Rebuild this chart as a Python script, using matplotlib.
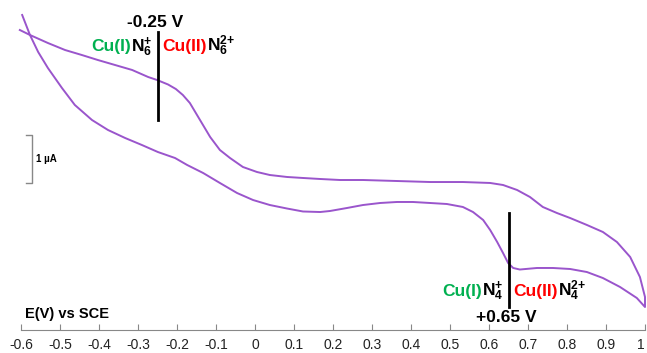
import matplotlib
matplotlib.use("Agg")
import matplotlib.pyplot as plt
from matplotlib.transforms import offset_copy

plt.rcParams['font.family'] = 'Liberation Sans'
plt.rcParams['axes.unicode_minus'] = False
plt.rcParams['mathtext.fontset'] = 'custom'
plt.rcParams['mathtext.rm'] = 'Liberation Sans'
plt.rcParams['mathtext.bf'] = 'Liberation Sans:bold'

# forward scan (-0.6 -> 1.0), potential in V vs SCE, current in uA (arbitrary offset)
fwd_E = [-0.603, -0.577, -0.531, -0.487, -0.444, -0.403, -0.359, -0.315,
         -0.274, -0.251, -0.223, -0.203, -0.185, -0.167, -0.141, -0.115,
         -0.090, -0.064, -0.031, 0.005, 0.038, 0.082, 0.123, 0.167, 0.218,
         0.277, 0.364, 0.449, 0.533, 0.603, 0.636, 0.672, 0.705, 0.738,
         0.774, 0.808, 0.851, 0.892, 0.928, 0.962, 0.987, 1.0, 1.0]
fwd_I = [6.25, 6.146, 5.979, 5.833, 5.729, 5.625, 5.521, 5.417,
         5.271, 5.208, 5.115, 5.021, 4.896, 4.729, 4.375, 4.021,
         3.75, 3.583, 3.396, 3.292, 3.229, 3.188, 3.167, 3.146, 3.125,
         3.125, 3.104, 3.083, 3.083, 3.063, 3.021, 2.917, 2.771, 2.563,
         2.438, 2.333, 2.188, 2.042, 1.833, 1.521, 1.104, 0.688, 0.479]

# reverse scan (1.0 -> -0.6)
rev_E = [1.0, 0.979, 0.936, 0.892, 0.851, 0.808, 0.764, 0.723, 0.679,
         0.662, 0.649, 0.636, 0.621, 0.603, 0.585, 0.559, 0.533, 0.492,
         0.449, 0.405, 0.364, 0.321, 0.277, 0.236, 0.192, 0.167, 0.123,
         0.082, 0.038, -0.005, -0.046, -0.090, -0.133, -0.174, -0.205,
         -0.249, -0.290, -0.333, -0.377, -0.418, -0.462, -0.495, -0.531,
         -0.556, -0.577, -0.597]
rev_I = [0.479, 0.667, 0.896, 1.083, 1.208, 1.271, 1.292, 1.292, 1.26,
         1.292, 1.396, 1.604, 1.833, 2.083, 2.292, 2.458, 2.563, 2.625,
         2.646, 2.667, 2.667, 2.646, 2.604, 2.542, 2.479, 2.458, 2.469,
         2.531, 2.604, 2.708, 2.854, 3.063, 3.271, 3.438, 3.583,
         3.708, 3.854, 4.0, 4.167, 4.375, 4.688, 5.042, 5.458,
         5.792, 6.146, 6.563]

xticks = [-0.6, -0.5, -0.4, -0.3, -0.2, -0.1, 0, 0.1, 0.2, 0.3, 0.4, 0.5,
          0.6, 0.7, 0.8, 0.9, 1.0]
xlabels = ['-0.6', '-0.5', '-0.4', '-0.3', '-0.2', '-0.1', '0', '0.1', '0.2',
           '0.3', '0.4', '0.5', '0.6', '0.7', '0.8', '0.9', '1']

GREEN = '#00b050'
RED = '#ff0000'
PURPLE = '#9a55cc'

fig = plt.figure(figsize=(6.47, 3.53), dpi=100)
ax = fig.add_axes([21 / 647, 23 / 353, 624 / 647, 330 / 353])
ax.set_xlim(-0.6, 1.0)
ax.set_ylim(0, 330 / 48)

ax.plot(fwd_E + rev_E, fwd_I + rev_I, color=PURPLE, lw=1.4, clip_on=False)

for s in ['left', 'right', 'top']:
    ax.spines[s].set_visible(False)
ax.spines['bottom'].set_color('#888888')
ax.set_yticks([])
ax.set_xticks(xticks)
ax.set_xticklabels(xlabels)
ax.tick_params(axis='x', direction='in', length=4, color='#888888',
               labelsize=10, pad=6, labelcolor='#222222')
ax.get_xticklabels()[-1].set_horizontalalignment('right')

# scale bar
ax.plot([-0.586, -0.573, -0.573, -0.586], [4.06, 4.06, 3.06, 3.06],
        color='#888888', lw=1, clip_on=False)
ax.text(-0.562, 3.56, '1 \u00b5A', fontsize=7, fontweight='bold', va='center')

ax.text(-0.59, 0.25, 'E(V) vs SCE', fontsize=10.5, fontweight='bold')

# marker lines
ax.plot([-0.25, -0.25], [6.21, 4.375], color='black', lw=2)
ax.plot([0.65, 0.65], [2.44, 0.48], color='black', lw=2)
ax.text(-0.257, 6.31, '-0.25 V', fontsize=12.5, fontweight='bold', ha='center')
ax.text(0.644, 0.167, '+0.65 V', fontsize=12.5, fontweight='bold', ha='center')

renderer = fig.canvas.get_renderer()


def chain(x, y, pieces, align):
    # draws coloured pieces next to each other on one baseline
    dx = 0
    seq = reversed(pieces) if align == 'right' else pieces
    for s, c in seq:
        off = -dx if align == 'right' else dx
        tr = offset_copy(ax.transData, fig=fig, x=off, y=0, units='dots')
        t = ax.text(x, y, s, color=c, ha=align, va='baseline', transform=tr,
                    fontsize=12.5, fontweight='bold')
        dx += t.get_window_extent(renderer).width


chain(-0.263, 5.81, [('Cu(I)', GREEN), (r'$\mathbf{N_6^{+}}$', 'black')], 'right')
chain(-0.237, 5.81, [('Cu(II)', RED), (r'$\mathbf{N_6^{2{+}}}$', 'black')], 'left')
chain(0.637, 0.71, [('Cu(I)', GREEN), (r'$\mathbf{N_4^{+}}$', 'black')], 'right')
chain(0.663, 0.71, [('Cu(II)', RED), (r'$\mathbf{N_4^{2{+}}}$', 'black')], 'left')

fig.savefig('out.png', dpi=100)
